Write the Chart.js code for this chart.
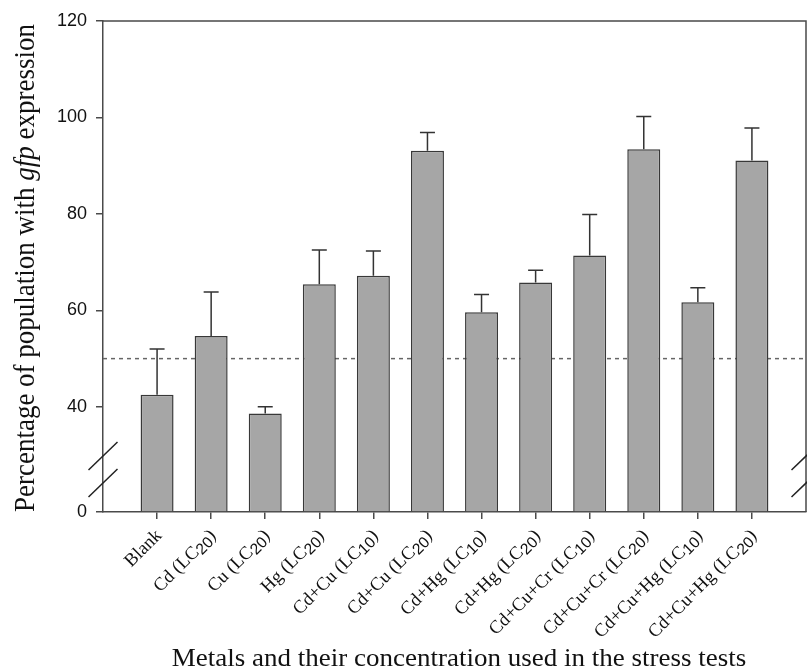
<!DOCTYPE html>
<html>
<head>
<meta charset="utf-8">
<script src="https://cdn.jsdelivr.net/npm/chart.js@4.4.0/dist/chart.umd.min.js"></script>
<style>
  html, body { margin: 0; padding: 0; background: #fff; }
</style>
</head>
<body>
<canvas id="chart" width="807" height="671"></canvas>
<script>
// categories; subscripts are written as _{..}
const categories = [
  'Blank', 'Cd (LC_{20})', 'Cu (LC_{20})', 'Hg (LC_{20})',
  'Cd+Cu (LC_{10})', 'Cd+Cu (LC_{20})', 'Cd+Hg (LC_{10})', 'Cd+Hg (LC_{20})',
  'Cd+Cu+Cr (LC_{10})', 'Cd+Cu+Cr (LC_{20})', 'Cd+Cu+Hg (LC_{10})', 'Cd+Cu+Hg (LC_{20})'
];
const meanValues = [42.5, 54.7, 38.6, 65.4, 67.2, 93.1, 59.6, 65.8, 71.4, 93.4, 61.7, 91.1];
const errorValues = [9.5, 9.1, 1.4, 7.1, 5.1, 3.8, 3.7, 2.5, 8.5, 6.8, 3.0, 6.7];
const yTickValues = [40, 60, 80, 100, 120];
const thresholdValue = 50;
// broken y axis: the "0" tick sits at this scale position, everything between is cut out
const zeroPosition = 18.2;
const breakPosition = 27;

const AXIS_COLOR = '#4a4a4a';
const TEXT_COLOR = '#111';
const SERIF = '"Liberation Serif", "DejaVu Serif", serif';
const SANS = '"Liberation Sans", Arial, sans-serif';

function drawRichText(ctx, text, size) {
  // text is drawn ending at the current origin, baseline middle
  const parts = text.split(/_\{(\d+)\}/);
  const fonts = parts.map((p, k) => k % 2 ? (size * 0.85) + 'px ' + SANS : size + 'px ' + SERIF);
  const widths = parts.map((p, k) => { ctx.font = fonts[k]; return ctx.measureText(p).width; });
  let cx = -widths.reduce((a, b) => a + b, 0);
  parts.forEach((p, k) => {
    ctx.font = fonts[k];
    ctx.fillText(p, cx, k % 2 ? size * 0.2 : 0);
    cx += widths[k];
  });
}

const decorations = {
  id: 'decorations',
  beforeDatasetsDraw(chart) {
    const { ctx, chartArea, scales } = chart;
    const y = scales.y.getPixelForValue(thresholdValue);
    ctx.save();
    ctx.strokeStyle = '#666';
    ctx.lineWidth = 1.5;
    ctx.setLineDash([4, 4]);
    ctx.beginPath();
    ctx.moveTo(chartArea.left, y);
    ctx.lineTo(chartArea.right, y);
    ctx.stroke();
    ctx.restore();
  },
  afterDatasetsDraw(chart) {
    const { ctx, scales } = chart;
    const meta = chart.getDatasetMeta(0);
    ctx.save();
    ctx.strokeStyle = '#333';
    ctx.lineWidth = 1.5;
    meta.data.forEach((bar, i) => {
      const yTop = scales.y.getPixelForValue(meanValues[i] + errorValues[i]);
      const yBar = scales.y.getPixelForValue(meanValues[i]);
      ctx.beginPath();
      ctx.moveTo(bar.x, yBar);
      ctx.lineTo(bar.x, yTop);
      ctx.moveTo(bar.x - 7.5, yTop);
      ctx.lineTo(bar.x + 7.5, yTop);
      ctx.stroke();
    });
    ctx.restore();
  },
  afterDraw(chart) {
    const { ctx, chartArea, scales } = chart;
    ctx.save();
    // top and right frame
    ctx.strokeStyle = AXIS_COLOR;
    ctx.lineWidth = 1.5;
    ctx.beginPath();
    ctx.moveTo(chartArea.left, chartArea.top);
    ctx.lineTo(chartArea.right, chartArea.top);
    ctx.lineTo(chartArea.right, chartArea.bottom);
    ctx.stroke();

    // axis break marks
    const yb = scales.y.getPixelForValue(breakPosition);
    ctx.strokeStyle = '#222';
    [chartArea.left, chartArea.right].forEach(xb => {
      [-13.5, 13.5].forEach(off => {
        ctx.beginPath();
        ctx.moveTo(xb - 14.5, yb + off + 14);
        ctx.lineTo(xb + 14.5, yb + off - 14);
        ctx.stroke();
      });
    });

    // category labels, rotated 45 degrees
    ctx.fillStyle = TEXT_COLOR;
    ctx.textAlign = 'left';
    ctx.textBaseline = 'middle';
    categories.forEach((c, i) => {
      const x = scales.x.getPixelForValue(i + 1);
      ctx.save();
      ctx.translate(x + 2, chartArea.bottom + 21);
      ctx.rotate(-Math.PI / 4);
      drawRichText(ctx, c, 18.5);
      ctx.restore();
    });

    // axis titles
    ctx.textBaseline = 'alphabetic';
    ctx.save();
    ctx.translate(459, 666);
    ctx.scale(1.08, 1);
    ctx.textAlign = 'center';
    ctx.font = '25px ' + SERIF;
    ctx.fillText('Metals and their concentration used in the stress tests', 0, 0);
    ctx.restore();

    const titleSize = 27;
    ctx.save();
    ctx.translate(34, 268);
    ctx.scale(1.08, 1);
    ctx.rotate(-Math.PI / 2);
    const yParts = [['Percentage of population with ', ''], ['gfp', 'italic '], [' expression', '']];
    const yWidths = yParts.map(([t, st]) => { ctx.font = st + titleSize + 'px ' + SERIF; return ctx.measureText(t).width; });
    let cx = -yWidths.reduce((a, b) => a + b, 0) / 2;
    ctx.textAlign = 'left';
    yParts.forEach(([t, st], k) => {
      ctx.font = st + titleSize + 'px ' + SERIF;
      ctx.fillText(t, cx, 0);
      cx += yWidths[k];
    });
    ctx.restore();
    ctx.restore();
  }
};

const ctx = document.getElementById('chart').getContext('2d');
new Chart(ctx, {
  type: 'bar',
  data: {
    datasets: [{
      data: meanValues.map((v, i) => ({ x: i + 1, y: v })),
      base: zeroPosition,
      backgroundColor: '#a6a6a6',
      borderColor: '#383838',
      borderWidth: 1.5,
      barPercentage: 0.61,
      categoryPercentage: 1
    }]
  },
  options: {
    responsive: false,
    animation: false,
    layout: { padding: { top: 21, right: 1, left: 0, bottom: 0 } },
    plugins: { legend: { display: false }, tooltip: { enabled: false } },
    scales: {
      x: {
        type: 'linear',
        offset: false,
        min: 0,
        max: categories.length + 1,
        afterBuildTicks: s => { s.ticks = categories.map((c, i) => ({ value: i + 1 })); },
        afterFit: s => { s.height = 159; },
        ticks: { display: false },
        grid: { offset: false, drawOnChartArea: false, drawTicks: true, tickLength: 7, color: AXIS_COLOR, lineWidth: 1.5 },
        border: { color: AXIS_COLOR, width: 1.5 }
      },
      y: {
        type: 'linear',
        min: zeroPosition,
        max: 120,
        afterBuildTicks: s => { s.ticks = [zeroPosition, ...yTickValues].map(v => ({ value: v })); },
        afterFit: s => { s.width = 103; },
        ticks: {
          callback: v => v === zeroPosition ? '0' : v,
          font: { family: 'Liberation Sans', size: 18 },
          color: TEXT_COLOR,
          padding: 9
        },
        grid: { drawOnChartArea: false, drawTicks: true, tickLength: 7, color: AXIS_COLOR, lineWidth: 1.5 },
        border: { color: AXIS_COLOR, width: 1.5 }
      }
    }
  },
  plugins: [decorations]
});
</script>
</body>
</html>
